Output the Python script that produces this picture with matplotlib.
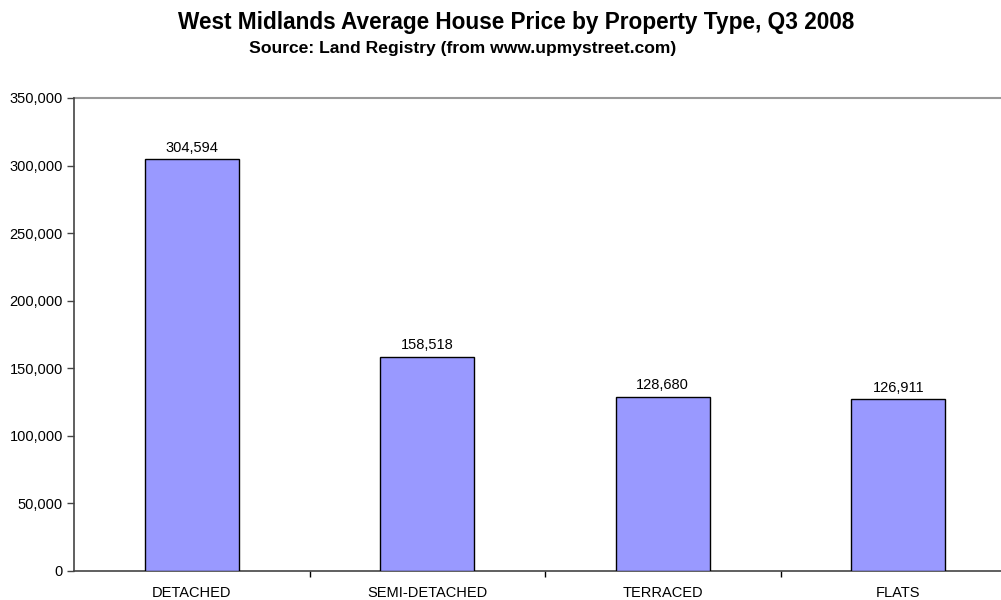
import matplotlib.pyplot as plt
from matplotlib.ticker import FuncFormatter

plt.rcParams['font.family'] = ['Liberation Sans', 'DejaVu Sans']

categories = ["DETACHED", "SEMI-DETACHED", "TERRACED", "FLATS"]
prices = [304594, 158518, 128680, 126911]
yticks = [0, 50000, 100000, 150000, 200000, 250000, 300000, 350000]

fig = plt.figure(figsize=(10.01, 6.0), dpi=100)
# plot area runs past the right edge of the picture, as in the original
ax = fig.add_axes([74 / 1001, 29 / 600, 942 / 1001, 473 / 600])

x = list(range(len(categories)))
bars = ax.bar(x, prices, width=0.4, color="#9999ff", edgecolor="black", linewidth=1.0, zorder=3)

for xi, v in zip(x, prices):
    ax.annotate(f"{v:,}", (xi, v), textcoords="offset points", xytext=(0, 3.5),
                ha="center", va="bottom", fontsize=10.5)

ax.set_xlim(-0.5, len(categories) - 0.5)
ax.set_ylim(0, 350000)
ax.set_yticks(yticks)
ax.yaxis.set_major_formatter(FuncFormatter(lambda v, p: f"{int(v):,}"))
ax.axhline(350000, color="#999999", linewidth=1.5, zorder=1, clip_on=False)

ax.set_xticks(x)
ax.set_xticklabels(categories)
ax.set_xticks([i + 0.5 for i in x[:-1]], minor=True)
ax.tick_params(axis="x", which="major", length=0, pad=11, labelsize=10.5)
ax.tick_params(axis="x", which="minor", length=4, width=1, color="black")
ax.tick_params(axis="y", length=5, width=1, color="#444444", labelsize=10.5, pad=3)

for s in ["top", "right"]:
    ax.spines[s].set_visible(False)
ax.spines["left"].set_color("#444444")
ax.spines["left"].set_linewidth(1.2)
ax.spines["bottom"].set_color("#444444")
ax.spines["bottom"].set_linewidth(1.2)

fig.text(516 / 1001, 1 - 23 / 600, "West Midlands Average House Price by Property Type, Q3 2008",
         ha="center", va="center", fontsize=16.3, fontweight="bold")
fig.text(249 / 1001, 1 - 49 / 600, "Source: Land Registry (from www.upmystreet.com)",
         ha="left", va="center", fontsize=12.6, fontweight="bold")

fig.savefig("out.png", dpi=100)
